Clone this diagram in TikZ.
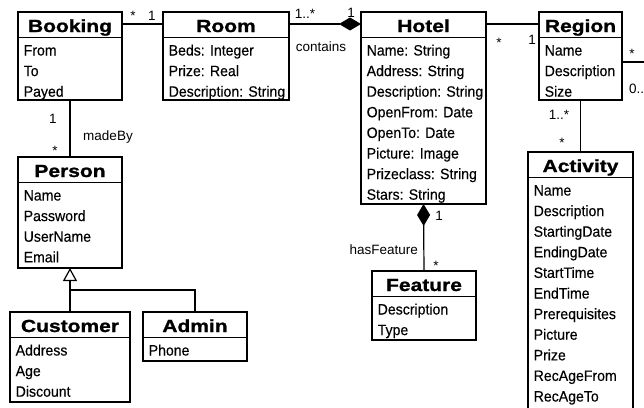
\documentclass[tikz,border=0pt]{standalone}
\usepackage{fontspec}
\setmainfont{Liberation Sans}
\newfontfamily\titlefont[FakeStretch=1.2,FakeBold=1.2]{Liberation Sans}
\newfontfamily\attrfont[FakeStretch=0.94,FakeBold=0.3]{Liberation Sans}
\usetikzlibrary{calc,arrows.meta}
\tikzset{
  classbox/.style={draw, line width=1.3pt, inner sep=0pt, outer sep=0pt, rectangle},
  sepline/.style={line width=1.4pt},
  titletext/.style={font=\titlefont\bfseries\fontsize{17.5}{20}\selectfont, inner sep=0pt},
  attrtext/.style={font=\attrfont\fontsize{15}{17}\selectfont, inner sep=0pt},
  lbl/.style={font=\fontsize{13.5}{16}\selectfont, inner sep=0pt, anchor=base},
  assoc/.style={line width=1.2pt},
  compo/.style={assoc, -{Diamond[length=22pt,width=13pt,fill=black]}},
  gener/.style={assoc, -{Triangle[open,length=13pt,width=14pt,fill=white]}},
}
\newcommand\umlclass[7]{%
  \node[classbox, anchor=north west, minimum width={(#4-#2)*1pt}, minimum height={(#5-#3)*1pt}] (#1) at (#2,#3) {};
  \draw[sepline] ($(#1.north west)+(0,25.5)$) -- ($(#1.north east)+(0,25.5)$);
  \node[titletext, anchor=base] (#1T) at ($(#1.north)+(0,20)$) {#6};
  \foreach \a [count=\i] in {#7} {\node[attrtext, anchor=base west] (#1A\i) at ($(#1.north west)+(5.5,{43.5+(\i-1)*20.6})$) {\a};}
}
\begin{document}
\begin{tikzpicture}[x=1pt,y=-1pt]
\useasboundingbox (0,0) rectangle (644,407);
\fill[white] (0,0) rectangle (644,407);
\clip (0,0) rectangle (644,407);

\umlclass{booking}{18}{12}{122}{100}{Booking}{From,To,Payed}
\umlclass{room}{163}{12}{289}{100}{Room}{Beds: Integer,Prize: Real,Description: String}
\umlclass{hotel}{361}{12}{486}{204}{Hotel}{Name: String,Address: String,Description: String,OpenFrom: Date,OpenTo: Date,Picture: Image,Prizeclass: String,Stars: String}
\umlclass{region}{539}{12}{622}{100}{Region}{Name,Description,Size}
\umlclass{activity}{528}{152}{633}{414}{Activity}{Name,Description,StartingDate,EndingDate,StartTime,EndTime,Prerequisites,Picture,Prize,RecAgeFrom,RecAgeTo}
\umlclass{person}{18}{157}{122}{268}{Person}{Name,Password,UserName,Email}
\umlclass{customer}{10}{312}{130}{402}{Customer}{Address,Age,Discount}
\umlclass{admin}{143}{312}{247}{361}{Admin}{Phone}
\umlclass{feature}{372}{271}{476}{340}{Feature}{Description,Type}

% Booking - Room
\draw[assoc] ($(booking.north east)+(0,12)$) -- ($(room.north west)+(0,12)$);
\node[lbl] (l1) at (133,20) {*};
\node[lbl] (l2) at (152,20) {1};
% Room - Hotel (composition)
\draw[compo] ($(room.north east)+(0,12)$) -- ($(hotel.north west)+(0,12)$);
\node[lbl] (l3) at (305,18) {1..*};
\node[lbl] (l4) at (351,17) {1};
\node[lbl] (l5) at (321,51) {contains};
% Hotel - Region
\draw[assoc] ($(hotel.north east)+(0,12)$) -- ($(region.north west)+(0,12)$);
\node[lbl] (l6) at (499,47) {*};
\node[lbl] (l7) at (532,44) {1};
% Region right-hand association
\coordinate (rout) at (660,62);
\draw[assoc] ($(region.north east)+(0,50)$) -- (rout);
\node[lbl] (l8) at (632,58) {*};
\node[lbl, anchor=base west] (l9) at (629,93) {0..};
% Region - Activity
\draw[assoc] (region.south) -- (activity.north);
\node[lbl] (l10) at (559,119) {1..*};
\node[lbl] (l11) at (562,147) {*};
% Booking - Person
\draw[assoc] (booking.south) -- (person.north);
\node[lbl] (l12) at (53,123) {1};
\node[lbl] (l13) at (55,155) {*};
\node[lbl] (l14) at (108,140) {madeBy};
% Generalization
\coordinate (gj) at ($(person.south)+(0,22)$);
\draw[assoc] (customer.north) -- (gj);
\draw[assoc] (admin.north) |- (gj);
\draw[gener] (gj) -- (person.south);
% Hotel - Feature (composition)
\draw[compo] (feature.north) -- (hotel.south);
\node[lbl] (l15) at (439,220) {1};
\node[lbl] (l16) at (436,270) {*};
\node[lbl, anchor=base east] (l17) at (418,254) {hasFeature};
\end{tikzpicture}
\end{document}
